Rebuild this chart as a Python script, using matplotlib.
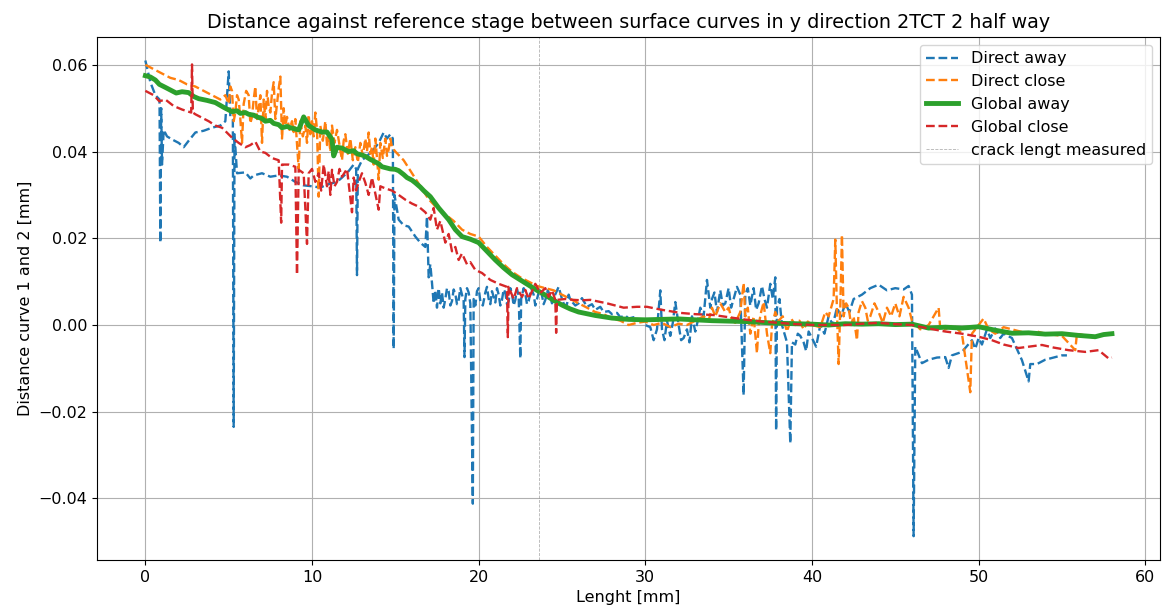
import numpy as np
import matplotlib
matplotlib.use("Agg")
import matplotlib.pyplot as plt

plt.rcParams["font.size"] = 11.5
plt.rcParams["lines.linewidth"] = 1.7

# (length [mm], distance [mm])
direct_away = [
    (0.0, 0.061), (0.3, 0.056), (0.6, 0.053), (0.85, 0.052), (0.9, 0.019), (0.95, 0.050), (1.0, 0.037),
    (1.1, 0.045), (1.3, 0.0435), (1.6, 0.0428), (2.0, 0.042), (2.3, 0.041), (2.6, 0.0425), (3.0, 0.0444),
    (3.5, 0.0448), (4.0, 0.0455), (4.5, 0.046), (4.8, 0.047), (5.0, 0.0585), (5.1, 0.048), (5.25, 0.0475),
    (5.3, -0.0235), (5.35, 0.044), (5.5, 0.035), (6.0, 0.0352), (6.3, 0.0338), (6.5, 0.0345), (7.0, 0.035),
    (7.5, 0.0342), (8.0, 0.0345), (8.5, 0.0342), (9.0, 0.033), (9.5, 0.0322), (10.0, 0.032), (10.5, 0.0317),
    (11.0, 0.0325), (11.5, 0.033), (11.8, 0.034), (12.2, 0.0355), (12.5, 0.037), (12.65, 0.036), (12.7, 0.0115),
    (12.75, 0.036), (13.0, 0.038), (13.3, 0.039), (13.6, 0.040), (14.0, 0.042), (14.3, 0.0444), (14.5, 0.043),
    (14.7, 0.044), (14.85, 0.043), (14.9, -0.0055), (14.95, 0.030), (15.2, 0.0243), (15.5, 0.023), (15.8, 0.0227),
    (16.2, 0.0204), (16.5, 0.019), (16.8, 0.018), (16.9, 0.025), (17.0, 0.011), (17.1, 0.014), (17.2, 0.0097),
    (17.3, 0.005), (17.4, 0.008), (17.5, 0.004), (17.6, 0.0085), (17.7, 0.005), (17.8, 0.0075), (17.9, 0.004),
    (18.0, 0.006), (18.1, 0.0085), (18.2, 0.0078), (18.3, 0.0045), (18.4, 0.0055), (18.5, 0.0082), (18.6, 0.0072),
    (18.7, 0.0048), (18.8, 0.0058), (18.9, 0.0085), (19.0, 0.007), (19.1, 0.0055), (19.15, -0.0074), (19.2, 0.006),
    (19.3, 0.0085), (19.4, 0.0075), (19.5, 0.005), (19.65, -0.0412), (19.7, 0.006), (19.8, 0.0045), (19.9, 0.0078),
    (20.0, 0.0085), (20.1, 0.0055), (20.25, 0.0045), (20.4, 0.0075), (20.5, 0.0088), (20.6, 0.006), (20.7, 0.0048),
    (20.8, 0.0078), (20.9, 0.0065), (21.0, 0.0052), (21.1, 0.0085), (21.2, 0.007), (21.3, 0.0045), (21.4, 0.0058),
    (21.5, 0.0082), (21.6, 0.0075), (21.7, 0.0048), (21.8, 0.0055), (21.9, 0.0085), (22.0, 0.0072), (22.1, 0.0045),
    (22.2, 0.0058), (22.3, 0.0083), (22.4, 0.0068), (22.5, -0.0077), (22.55, 0.006), (22.7, 0.0085), (22.8, 0.0072),
    (22.9, 0.0048), (23.0, 0.0055), (23.15, 0.0085), (23.3, 0.007), (23.4, 0.0045), (23.5, 0.006), (23.65, 0.0082),
    (23.8, 0.0068), (23.9, 0.0048), (24.0, 0.0058), (24.15, 0.008), (24.3, 0.0066), (24.4, 0.005), (24.5, 0.0062),
    (24.8, 0.0088), (25.0, 0.006), (25.15, 0.0045), (25.3, 0.0048), (25.4, 0.007), (25.5, 0.0058), (25.8, 0.0045),
    (26.0, 0.005), (26.2, 0.0062), (26.5, 0.0042), (26.8, 0.0048), (27.0, 0.0035), (27.3, 0.0042), (27.5, 0.003),
    (27.8, 0.0032), (28.0, 0.0025), (28.3, 0.0028), (28.5, 0.0018), (28.8, 0.0022), (29.0, 0.0015), (29.3, 0.0018),
    (29.5, 0.001), (29.8, 0.0012), (30.0, 0.0), (30.3, -0.0005), (30.5, -0.0035), (30.7, -0.001), (30.9, 0.008),
    (31.0, -0.001), (31.15, -0.0035), (31.3, 0.001), (31.5, -0.0025), (31.65, 0.0005), (31.8, 0.0053), (32.0, 0.0),
    (32.15, -0.0035), (32.3, -0.003), (32.5, -0.001), (32.65, -0.004), (32.8, 0.002), (33.0, -0.0015), (33.15, 0.001),
    (33.3, 0.004), (33.5, 0.002), (33.7, 0.0104), (33.9, 0.004), (34.0, 0.006), (34.15, 0.0075), (34.3, 0.003),
    (34.5, 0.008), (34.65, 0.0045), (34.8, 0.005), (35.0, 0.0085), (35.15, 0.004), (35.3, 0.006), (35.5, 0.0088),
    (35.7, 0.007), (35.9, -0.0162), (36.0, 0.007), (36.15, 0.0085), (36.3, 0.0045), (36.5, 0.0085), (36.65, 0.0035),
    (36.8, 0.005), (37.0, 0.009), (37.15, 0.006), (37.3, 0.004), (37.5, 0.0095), (37.65, 0.006), (37.8, 0.011),
    (37.85, -0.0243), (37.9, 0.004), (38.05, 0.006), (38.2, 0.0), (38.35, -0.002), (38.5, -0.004), (38.7, -0.0273),
    (38.8, -0.004), (39.0, -0.0045), (39.15, -0.002), (39.3, -0.0025), (39.5, -0.004), (39.65, -0.006), (39.8, -0.0015),
    (40.0, -0.003), (40.25, -0.005), (40.5, 0.0), (40.75, -0.002), (41.0, 0.002), (41.25, 0.0), (41.5, 0.004),
    (41.75, 0.002), (42.0, 0.005), (42.25, 0.003), (42.5, 0.006), (43.0, 0.007), (43.5, 0.0085), (44.0, 0.0093),
    (44.5, 0.008), (45.0, 0.0085), (45.5, 0.0082), (45.8, 0.009), (46.0, 0.007), (46.1, -0.0487), (46.2, -0.005),
    (46.6, -0.0088), (47.0, -0.008), (47.5, -0.0075), (48.0, -0.0074), (48.2, -0.0099), (48.4, -0.007),
    (49.0, -0.0062), (49.6, -0.0035), (49.8, -0.0055), (50.0, -0.003), (50.2, -0.0045), (50.5, -0.001),
    (50.7, -0.003), (51.0, -0.0008), (51.3, -0.003), (51.5, -0.002), (52.0, -0.003), (52.6, -0.0081), (53.0, -0.013),
    (53.1, -0.009), (53.5, -0.009), (54.0, -0.008), (54.5, -0.0075), (55.0, -0.007), (55.3, -0.007),
]

direct_close = [
    (0.0, 0.060), (0.5, 0.059), (1.0, 0.058), (1.5, 0.057), (2.0, 0.0565), (2.5, 0.0555), (3.0, 0.055),
    (3.5, 0.054), (4.0, 0.053), (4.5, 0.052), (4.8, 0.053), (5.0, 0.051), (5.1, 0.055), (5.2, 0.054), (5.3, 0.047),
    (5.4, 0.049), (5.5, 0.053), (5.6, 0.052), (5.7, 0.0475), (5.8, 0.042), (5.9, 0.051), (6.05, 0.054),
    (6.2, 0.053), (6.3, 0.0465), (6.4, 0.048), (6.5, 0.052), (6.6, 0.055), (6.7, 0.0475), (6.8, 0.050),
    (6.9, 0.053), (7.0, 0.042), (7.1, 0.052), (7.2, 0.0475), (7.3, 0.054), (7.4, 0.0505), (7.5, 0.049),
    (7.6, 0.0535), (7.7, 0.056), (7.8, 0.0475), (7.9, 0.051), (8.0, 0.0545), (8.1, 0.0573), (8.2, 0.043),
    (8.3, 0.050), (8.4, 0.046), (8.5, 0.048), (8.65, 0.045), (8.8, 0.047), (8.9, 0.0445), (9.0, 0.0475),
    (9.2, 0.036), (9.3, 0.047), (9.45, 0.0435), (9.6, 0.046), (9.7, 0.042), (9.8, 0.0485), (9.9, 0.044),
    (10.0, 0.047), (10.1, 0.0435), (10.2, 0.049), (10.3, 0.045), (10.4, 0.0296), (10.5, 0.046), (10.65, 0.0425),
    (10.8, 0.047), (10.9, 0.0415), (11.0, 0.044), (11.1, 0.040), (11.2, 0.046), (11.35, 0.042), (11.5, 0.045),
    (11.65, 0.0415), (11.8, 0.038), (11.9, 0.0425), (12.0, 0.044), (12.15, 0.0395), (12.3, 0.043), (12.45, 0.038),
    (12.6, 0.041), (12.75, 0.0375), (12.9, 0.042), (13.05, 0.039), (13.2, 0.043), (13.3, 0.040), (13.4, 0.0444),
    (13.5, 0.0395), (13.6, 0.041), (13.7, 0.037), (13.8, 0.043), (13.9, 0.0385), (14.0, 0.0335), (14.1, 0.042),
    (14.25, 0.0385), (14.4, 0.043), (14.5, 0.039), (14.6, 0.0405), (14.7, 0.043), (14.8, 0.041), (15.0, 0.040),
    (15.5, 0.038), (16.0, 0.035), (16.5, 0.032), (17.0, 0.029), (17.5, 0.027), (18.0, 0.0255), (18.5, 0.024),
    (19.0, 0.022), (19.5, 0.021), (20.0, 0.0204), (20.5, 0.018), (21.0, 0.016), (21.5, 0.014), (22.0, 0.0123),
    (22.5, 0.011), (23.0, 0.010), (23.5, 0.009), (24.0, 0.0085), (24.5, 0.008), (25.0, 0.007), (25.5, 0.006),
    (26.0, 0.005), (26.5, 0.004), (27.0, 0.003), (27.5, 0.0025), (28.0, 0.0015), (28.5, 0.001), (29.0, 0.0),
    (29.5, 0.0005), (30.0, 0.0008), (30.5, 0.0), (31.0, 0.0005), (31.5, -0.0005), (32.0, 0.0003), (32.5, 0.0),
    (33.0, 0.001), (33.5, 0.002), (33.8, 0.001), (34.0, 0.004), (34.2, 0.002), (34.5, 0.005), (34.8, 0.003),
    (35.0, 0.004), (35.2, 0.001), (35.4, 0.0005), (35.7, 0.003), (35.9, 0.0097), (36.0, 0.002), (36.15, 0.004),
    (36.3, -0.002), (36.5, 0.002), (36.7, -0.0065), (36.8, 0.0), (36.95, 0.003), (37.1, 0.0053), (37.3, -0.002),
    (37.5, -0.0065), (37.6, 0.0), (37.8, 0.003), (38.0, 0.001), (38.25, 0.002), (38.5, -0.0015), (38.75, 0.0015),
    (39.0, 0.0), (39.25, 0.001), (39.5, -0.001), (39.75, 0.0008), (40.0, 0.0), (40.5, -0.0005), (40.8, 0.003),
    (41.0, 0.002), (41.3, 0.006), (41.4, 0.0197), (41.5, 0.003), (41.6, -0.009), (41.7, 0.004), (41.8, 0.0208),
    (41.9, 0.002), (42.05, 0.005), (42.2, 0.004), (42.35, 0.0), (42.5, 0.002), (42.7, -0.0035), (42.8, 0.003),
    (43.0, 0.0055), (43.2, 0.004), (43.35, 0.001), (43.5, 0.002), (43.75, 0.005), (44.0, 0.003), (44.25, 0.0005),
    (44.5, 0.004), (44.75, 0.002), (45.0, 0.005), (45.25, 0.002), (45.5, 0.0065), (45.8, 0.004), (46.0, 0.001),
    (46.5, -0.001), (47.0, 0.0), (47.6, 0.004), (47.7, -0.001), (48.0, -0.001), (48.5, 0.0), (49.0, -0.002),
    (49.5, -0.0155), (49.6, -0.002), (50.0, 0.0), (50.3, 0.0015), (50.6, -0.001), (51.0, -0.002), (51.5, -0.0005),
    (52.0, -0.001), (52.5, -0.0015), (53.0, -0.002), (53.5, -0.0015), (54.0, -0.002), (55.0, -0.0025),
    (55.8, -0.0058), (55.9, -0.002), (56.5, -0.0025), (57.0, -0.003),
]

global_away = [
    (0.0, 0.0575), (0.3, 0.0572), (0.6, 0.0565), (0.84, 0.0555), (1.2, 0.0548), (1.5, 0.0542), (1.85, 0.0535),
    (2.2, 0.0538), (2.6, 0.0536), (2.9, 0.0527), (3.2, 0.0522), (3.7, 0.0518), (4.2, 0.0513), (4.7, 0.0502),
    (5.0, 0.0496), (5.2, 0.0492), (5.5, 0.0494), (5.7, 0.0488), (6.0, 0.0490), (6.2, 0.0486), (6.5, 0.0484),
    (6.7, 0.048), (7.0, 0.0476), (7.2, 0.047), (7.5, 0.0472), (7.7, 0.0465), (8.0, 0.0462), (8.2, 0.0455),
    (8.5, 0.0458), (8.7, 0.0455), (9.0, 0.0452), (9.2, 0.045), (9.5, 0.048), (9.8, 0.046), (10.2, 0.045),
    (10.6, 0.0445), (10.9, 0.0445), (11.2, 0.0428), (11.3, 0.039), (11.5, 0.041), (11.8, 0.0408), (12.2, 0.040),
    (12.5, 0.0402), (12.7, 0.0395), (13.0, 0.0392), (13.2, 0.0389), (13.5, 0.0382), (13.7, 0.0378), (14.0, 0.0372),
    (14.2, 0.0365), (14.5, 0.0362), (14.7, 0.036), (15.0, 0.0359), (15.2, 0.0356), (15.5, 0.0347), (15.7, 0.034),
    (16.0, 0.0334), (16.2, 0.0328), (16.5, 0.0318), (16.7, 0.031), (17.1, 0.0296), (17.6, 0.027), (18.2, 0.0243),
    (18.6, 0.022), (19.0, 0.0204), (19.5, 0.0198), (20.0, 0.019), (20.5, 0.017), (21.0, 0.015), (21.5, 0.0132),
    (22.0, 0.0116), (22.5, 0.0104), (23.0, 0.0092), (23.5, 0.008), (24.0, 0.0069), (24.5, 0.0057), (25.0, 0.0046),
    (25.5, 0.0037), (26.0, 0.003), (27.0, 0.0022), (28.0, 0.0016), (29.0, 0.0013), (30.0, 0.0012), (31.0, 0.0013),
    (32.0, 0.0014), (33.0, 0.0012), (34.0, 0.001), (35.0, 0.0009), (36.0, 0.0008), (37.0, 0.0006), (38.0, 0.0004),
    (39.0, 0.0003), (40.0, 0.0002), (41.0, 0.0), (42.0, 0.0003), (43.0, 0.0002), (44.0, 0.0003), (45.0, 0.0001),
    (46.0, 0.0002), (47.0, -0.0007), (48.0, -0.0005), (49.0, -0.0007), (50.0, -0.0004), (51.0, -0.0012),
    (52.0, -0.0019), (53.0, -0.0018), (54.0, -0.0021), (55.0, -0.002), (56.0, -0.0024), (57.0, -0.0027),
    (57.5, -0.0022), (58.0, -0.002),
]

global_close = [
    (0.0, 0.054), (0.5, 0.053), (0.84, 0.0516), (1.2, 0.052), (1.7, 0.0505), (2.2, 0.0497), (2.75, 0.049),
    (2.8, 0.0601), (2.85, 0.049), (3.0, 0.0486), (3.4, 0.0478), (3.8, 0.047), (4.2, 0.046), (4.6, 0.0455),
    (5.2, 0.0432), (5.6, 0.042), (6.0, 0.041), (6.3, 0.0415), (6.6, 0.0423), (6.9, 0.040), (7.2, 0.0397),
    (7.6, 0.0385), (8.0, 0.038), (8.15, 0.0236), (8.2, 0.037), (8.6, 0.037), (9.0, 0.0365), (9.1, 0.0116),
    (9.2, 0.0358), (9.5, 0.035), (9.7, 0.0187), (9.8, 0.035), (10.0, 0.036), (10.2, 0.033), (10.4, 0.035),
    (10.55, 0.031), (10.7, 0.037), (10.9, 0.032), (11.0, 0.0355), (11.1, 0.030), (11.2, 0.0358), (11.35, 0.032),
    (11.5, 0.033), (11.65, 0.036), (11.8, 0.0342), (12.1, 0.036), (12.4, 0.026), (12.5, 0.034), (12.65, 0.031),
    (12.8, 0.033), (13.0, 0.035), (13.2, 0.0328), (13.4, 0.030), (13.6, 0.034), (14.0, 0.0266), (14.1, 0.032),
    (14.4, 0.0315), (14.8, 0.031), (15.2, 0.030), (15.6, 0.0289), (16.0, 0.028), (16.4, 0.0273), (16.8, 0.026),
    (17.1, 0.0243), (17.3, 0.027), (17.5, 0.022), (17.7, 0.024), (18.0, 0.019), (18.2, 0.021), (18.4, 0.017),
    (18.6, 0.018), (18.8, 0.015), (19.0, 0.0165), (19.3, 0.014), (19.5, 0.0145), (19.8, 0.0127), (20.2, 0.012),
    (20.7, 0.0104), (21.2, 0.0095), (21.7, 0.0088), (21.75, -0.0028), (21.8, 0.0088), (22.1, 0.006),
    (22.3, 0.0085), (22.6, 0.0065), (22.8, 0.0081), (23.0, 0.006), (23.2, 0.0078), (23.4, 0.0095), (23.7, 0.0074),
    (24.0, 0.0085), (24.2, 0.0065), (24.4, 0.008), (24.6, 0.0058), (24.65, -0.0018), (24.7, 0.0058), (25.2, 0.006),
    (25.7, 0.0058), (26.2, 0.0057), (26.7, 0.0058), (27.2, 0.0054), (27.7, 0.005), (28.2, 0.0045), (28.7, 0.004),
    (29.5, 0.0042), (30.1, 0.0042), (31.0, 0.0035), (32.1, 0.0028), (33.0, 0.0025), (34.1, 0.0023), (35.0, 0.0018),
    (36.1, 0.0012), (37.0, 0.0008), (38.0, 0.0005), (39.0, 0.0002), (40.1, 0.0), (41.0, 0.0), (42.0, 0.0),
    (43.0, 0.0003), (44.0, 0.0005), (45.0, 0.0002), (46.0, 0.0), (47.0, -0.0008), (48.0, -0.0015), (49.0, -0.002),
    (50.0, -0.0027), (50.8, -0.0035), (51.5, -0.0045), (52.4, -0.0053), (53.0, -0.005), (53.8, -0.0046),
    (54.5, -0.0052), (55.4, -0.0058), (56.4, -0.0062), (57.2, -0.0058), (57.8, -0.0077), (58.0, -0.0075),
]

crack_length = 23.6


def split(pairs):
    arr = np.array(pairs)
    return arr[:, 0], arr[:, 1]


fig = plt.figure(figsize=(11.62, 6.12), dpi=100)
ax = fig.add_axes([0.0835, 0.085, 0.915, 0.855])

x, y = split(direct_away)
ax.plot(x, y, "--", label="Direct away", color="tab:blue")
x, y = split(direct_close)
ax.plot(x, y, "--", label="Direct close", color="tab:orange")
x, y = split(global_away)
ax.plot(x, y, "-", label="Global away", color="tab:green", linewidth=3.5)
x, y = split(global_close)
ax.plot(x, y, "--", label="Global close", color="tab:red")
ax.axvline(crack_length, color="grey", linestyle="--", linewidth=0.6, alpha=0.6, label="crack lengt measured")

ax.set_title("Distance against reference stage between surface curves in y direction 2TCT 2 half way")
ax.set_xlabel("Lenght [mm]")
ax.set_ylabel("Distance curve 1 and 2 [mm]")
ax.grid(True)
ax.legend(loc="upper right")

fig.savefig("out.png", dpi=100)
